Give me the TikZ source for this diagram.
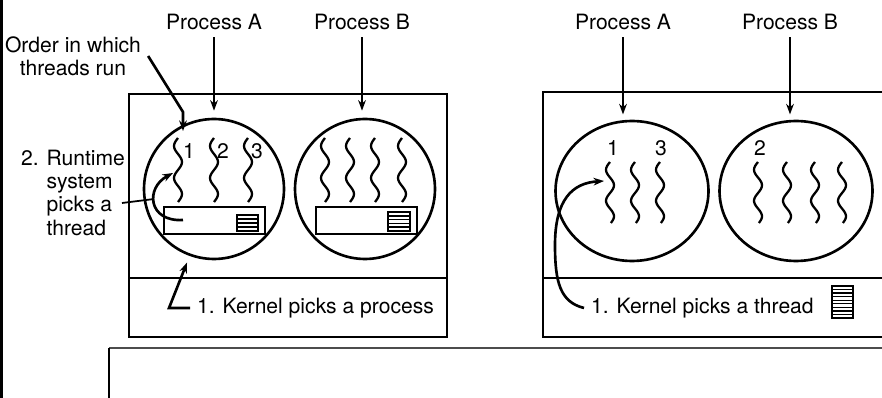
\documentclass[tikz,border=0pt]{standalone}
\usepackage{fontspec}
\setmainfont{TeX Gyre Heros}
\usetikzlibrary{shapes.geometric,arrows.meta}

\begin{document}
\begin{tikzpicture}[x=0.02cm,y=-0.02cm,>={Stealth[length=6pt,width=4.4pt]},line width=1.5pt,
  font=\fontsize{12}{13.2}\selectfont,
  proc/.style={circle,draw,inner sep=0pt,minimum size=2.8cm},
  procwide/.style={ellipse,draw,inner sep=0pt,minimum width=3.06cm,minimum height=2.8cm},
  thread/.style={line width=1.3pt}]
\useasboundingbox (0,0) rectangle (882,398);
\fill[black] (0,0) rectangle (3,398);

% left: user-level threads
\draw (129,94) rectangle (447,337);
\draw (129,278) -- (447,278);
\node[proc] (circA1) at (214,189) {};
\node[proc] (circB1) at (365,189) {};
\node (procA1) at (214,22) {Process A};
\node (procB1) at (362,22) {Process B};
\draw[->,shorten >=4pt] (procA1.south) -- (procA1.south |- circA1.north);
\draw[->,shorten >=4pt] (procB1.south) -- (procB1.south |- circB1.north);
\foreach \tx in {178,214,248}
  \draw[thread] plot[smooth,variable=\t,domain=0:64,samples=33] ({\tx-4*sin(11.25*\t)},{138+\t});
\foreach \tx in {325,350,375,402}
  \draw[thread] plot[smooth,variable=\t,domain=0:64,samples=33] ({\tx-4*sin(11.25*\t)},{138+\t});
\node (n1) at (189,151) {1};
\node (n2) at (223,151) {2};
\node (n3) at (257,151) {3};
\draw[line width=1.2pt] (164,207) rectangle (265,234);
\draw[line width=1.2pt] (237,215) rectangle (258,231);
\foreach \y in {219,223,227} \draw[line width=0.9pt] (237,\y) -- (258,\y);
\draw[line width=1.2pt] (316,207) rectangle (417,234);
\draw[line width=1.2pt] (388,212) rectangle (410,231);
\foreach \y in {215.8,219.6,223.4,227.2} \draw[line width=0.9pt] (388,\y) -- (410,\y);

\node[align=center] (order) at (73,56) {Order in which\\threads run};
\coordinate (bend1) at (183,112);
\coordinate (top1) at (183,131);
\draw[->] (order.east) -- (bend1) -- (top1);

\node[align=left,anchor=north west] (runtime) at (14,143)
  {2. Runtime\\\hphantom{2. }system\\\hphantom{2. }picks a\\\hphantom{2. }thread};
\coordinate (pickfrom) at (122,203);
\coordinate (pickto) at (154,199);
\draw[line width=1pt] (pickfrom) -- (pickto);
\coordinate (rt) at (183,220);
\coordinate (rttip) at (173,173);
\draw[->] (rt) .. controls (148,222) and (145,188) .. (rttip);

\node[anchor=west] (kproc) at (190,308) {1. Kernel picks a process};
\draw[->,shorten >=4pt] (kproc.west) -- ++(-21,0) -- (circA1.250);

% right: kernel-level threads
\draw (882,92) -- (543,92) -- (543,337) -- (882,337);
\draw (543,278) -- (882,278);
\node[procwide] (circA2) at (632,191) {};
\node[procwide] (circB2) at (796,191) {};
\node (procA2) at (623,22) {Process A};
\node (procB2) at (790,22) {Process B};
\draw[->,shorten >=3pt] (procA2.south) -- (procA2.south |- circA2.north);
\draw[->,shorten >=3pt] (procB2.south) -- (procB2.south |- circB2.north);
\foreach \tx in {610,635,660}
  \draw[thread] plot[smooth,variable=\t,domain=0:61,samples=33] ({\tx-4*sin(11.6*\t)},{162+\t});
\foreach \tx in {758,787,815,842}
  \draw[thread] plot[smooth,variable=\t,domain=0:61,samples=33] ({\tx-4*sin(11.6*\t)},{162+\t});
\node (m1) at (613,148) {1};
\node (m3) at (661,148) {3};
\node (m2) at (760,148) {2};

\node[anchor=west] (kthr) at (584,308) {1. Kernel picks a thread};
\coordinate (kttip) at (604,181);
\draw[->] (kthr.west) .. controls (560,302) and (555,282) .. (555,245)
  .. controls (555,200) and (572,183) .. (kttip);
\draw[line width=1.2pt] (832,286) rectangle (853,318);
\foreach \y in {1,...,8} \draw[line width=0.8pt] (832,286+\y*32/9) -- (853,286+\y*32/9);

% bottom frame
\draw[gray!60!black,line width=1.6pt] (109,348) -- (882,348);
\draw (109,348) -- (109,398);
\end{tikzpicture}
\end{document}
